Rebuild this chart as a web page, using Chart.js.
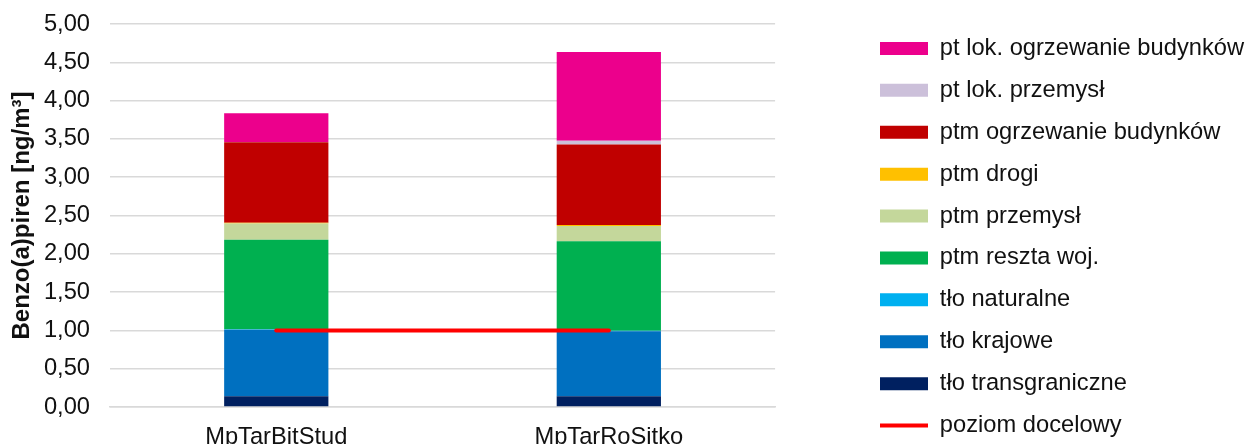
<!DOCTYPE html>
<html>
<head>
<meta charset="utf-8">
<script src="https://cdn.jsdelivr.net/npm/chart.js@4"></script>
<style>
  html, body { margin: 0; padding: 0; background: #fff; overflow: hidden; }
  #wrap { position: relative; width: 1247px; height: 474px; }
</style>
</head>
<body>
<div id="wrap"><canvas id="c"></canvas></div>
<script>
const categories = ['MpTarBitStud', 'MpTarRoSitko'];

const tloTransgraniczne = [0.14, 0.14];
const tloKrajowe = [0.87, 0.85];
const tloNaturalne = [0.004, 0.004];
const ptmResztaWoj = [1.17, 1.17];
const ptmPrzemysl = [0.21, 0.20];
const ptmDrogi = [0.012, 0.012];
const ptmOgrzewanie = [1.05, 1.05];
const ptLokPrzemysl = [0.003, 0.05];
const ptLokOgrzewanie = [0.375, 1.16];
const poziomDocelowy = [1.0, 1.0];

const yTickLabels = ['0,00','0,50','1,00','1,50','2,00','2,50','3,00','3,50','4,00','4,50','5,00'];

const FONT = 'Liberation Sans, Arial, sans-serif';

function barDs(label, data, color) {
  return {
    type: 'bar', label, data, backgroundColor: color, borderWidth: 0,
    pointStyle: 'rect', xAxisID: 'x', yAxisID: 'y', stack: 'main',
    barPercentage: 0.3135, categoryPercentage: 1.0
  };
}

const datasets = [
  barDs('tło transgraniczne', tloTransgraniczne, '#002060'),
  barDs('tło krajowe', tloKrajowe, '#0070C0'),
  barDs('tło naturalne', tloNaturalne, '#00B0F0'),
  barDs('ptm reszta woj.', ptmResztaWoj, '#00B050'),
  barDs('ptm przemysł', ptmPrzemysl, '#C4D79B'),
  barDs('ptm drogi', ptmDrogi, '#FFC000'),
  barDs('ptm ogrzewanie budynków', ptmOgrzewanie, '#C00000'),
  barDs('pt lok. przemysł', ptLokPrzemysl, '#CCC0DA'),
  barDs('pt lok. ogrzewanie budynków', ptLokOgrzewanie, '#EC008C'),
  {
    type: 'line', label: 'poziom docelowy', data: poziomDocelowy,
    borderColor: '#FF0000', backgroundColor: '#FF0000', borderWidth: 4,
    borderCapStyle: 'round', pointRadius: 0, pointHoverRadius: 0,
    pointStyle: 'line', order: -1, stack: 'target', xAxisID: 'x', yAxisID: 'y'
  }
];

const nBars = 9;
function legendKey(item) {
  return item.datasetIndex < nBars ? (nBars - 1 - item.datasetIndex) : nBars;
}

new Chart(document.getElementById('c'), {
  type: 'bar',
  data: { labels: categories, datasets },
  options: {
    responsive: true,
    maintainAspectRatio: false,
    animation: false,
    layout: { padding: { left: 0, right: 2, top: 0, bottom: 0 } },
    plugins: {
      tooltip: { enabled: false },
      legend: {
        position: 'right',
        align: 'center',
        maxWidth: 383.2,
        labels: {
          usePointStyle: true,
          pointStyleWidth: 48,
          boxHeight: 13,
          padding: 18.2,
          color: '#111',
          font: { family: FONT, size: 23.7 },
          sort: (a, b) => legendKey(a) - legendKey(b)
        }
      }
    },
    scales: {
      x: {
        axis: 'x', position: 'bottom', stacked: true,
        grid: { display: false, drawTicks: false },
        border: { display: true, color: '#d9d9d9', width: 1.5 },
        ticks: { color: '#111', font: { family: FONT, size: 23.7 }, padding: 16, maxRotation: 0 },
        afterFit: (s) => { s.height = 67; }
      },
      xTop: {
        axis: 'x', type: 'category', position: 'top', display: true,
        grid: { display: false, drawTicks: false }, border: { display: false },
        ticks: { display: false },
        afterFit: (s) => { s.height = 24; }
      },
      y: {
        axis: 'y', position: 'left', stacked: true, min: 0, max: 5,
        grid: { color: '#d9d9d9', lineWidth: 1.5, drawTicks: false },
        border: { display: false },
        ticks: {
          stepSize: 0.5, padding: 20, color: '#111',
          font: { family: FONT, size: 23.7 },
          callback: (v, i) => yTickLabels[i]
        },
        title: {
          display: true, text: 'Benzo(a)piren [ng/m³]', color: '#111',
          font: { family: FONT, size: 24, weight: 'bold' },
          padding: { top: 8, bottom: 0 }
        },
        afterFit: (s) => { s.width = 110; s.paddingTop = 10; s.paddingBottom = 10; }
      },
      yRight: {
        axis: 'y', type: 'linear', position: 'right', display: true,
        grid: { display: false, drawTicks: false }, border: { display: false },
        ticks: { display: false },
        afterFit: (s) => { s.width = 86.7; }
      }
    }
  }
});
</script>
</body>
</html>
